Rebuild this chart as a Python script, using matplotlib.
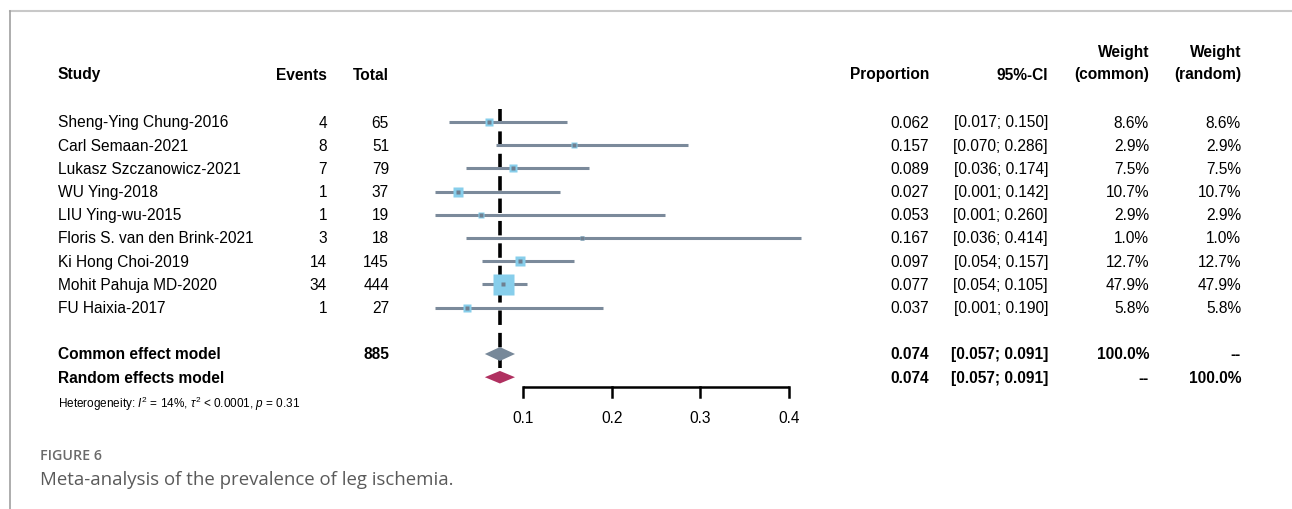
import matplotlib
matplotlib.use("Agg")
import matplotlib.pyplot as plt
import numpy as np

studies = ["Sheng-Ying Chung-2016", "Carl Semaan-2021", "Lukasz Szczanowicz-2021",
           "WU Ying-2018", "LIU Ying-wu-2015", "Floris S. van den Brink-2021",
           "Ki Hong Choi-2019", "Mohit Pahuja MD-2020", "FU Haixia-2017"]
events = [4, 8, 7, 1, 1, 3, 14, 34, 1]
totals = [65, 51, 79, 37, 19, 18, 145, 444, 27]
prop = [0.062, 0.157, 0.089, 0.027, 0.053, 0.167, 0.097, 0.077, 0.037]
ci_low = [0.017, 0.070, 0.036, 0.001, 0.001, 0.036, 0.054, 0.054, 0.001]
ci_high = [0.150, 0.286, 0.174, 0.142, 0.260, 0.414, 0.157, 0.105, 0.190]
w_common = [8.6, 2.9, 7.5, 10.7, 2.9, 1.0, 12.7, 47.9, 5.8]
w_random = [8.6, 2.9, 7.5, 10.7, 2.9, 1.0, 12.7, 47.9, 5.8]
pooled_total = 885
pooled_est = 0.074
pooled_low = 0.057
pooled_high = 0.091
xticks = [0.1, 0.2, 0.3, 0.4]

W, H = 1292, 510
fig = plt.figure(figsize=(W / 100, H / 100), dpi=100)
FONT = "Liberation Sans"
plt.rcParams["mathtext.fontset"] = "custom"
plt.rcParams["mathtext.rm"] = FONT
plt.rcParams["mathtext.it"] = FONT + ":italic"

# overlay axes in pixel coordinates for text/frame
ov = fig.add_axes([0, 0, 1, 1])
ov.set_xlim(0, W)
ov.set_ylim(H, 0)
ov.axis("off")

# frame
ov.plot([10, W], [11.5, 11.5], color="#c8c8c8", lw=1.5)
ov.plot([10, 10], [11.5, H], color="#a0a0a0", lw=1.2)

# forest axes: x in data units, y in row units
x0_px = 434.3
x1_px = 789.0
y_top = 110.0
y_bot = 420.0
pitch = 23.2
row0_y = 123.0
ax = fig.add_axes([x0_px / W, 1 - y_bot / H, (x1_px - x0_px) / W, (y_bot - y_top) / H])
ax.set_xlim(0, 0.4)
ax.set_ylim((y_bot - row0_y) / pitch, (y_top - row0_y) / pitch)
ax.axis("off")

n = len(studies)
rows = np.arange(n)
line_col = "#7b8a9b"
sq_col = "#87ceeb"

# reference dashed line
ax.plot([pooled_est, pooled_est], [-0.55, 10.6], color="black", lw=2.6,
        dashes=(4, 2.2), zorder=1)

for i in range(n):
    ax.plot([ci_low[i], ci_high[i]], [rows[i], rows[i]], color=line_col, lw=2.2,
            solid_capstyle="butt", zorder=2, clip_on=False)
    side_px = 21 * np.sqrt(w_common[i] / max(w_common))
    ax.plot(prop[i], rows[i], marker="s", ms=side_px * 0.72, color=sq_col,
            mec="none", zorder=3, clip_on=False)
    ax.plot(prop[i], rows[i], marker="s", ms=2.2, color="#6f7f90", mec="none",
            zorder=4, clip_on=False)

common_row = 10
random_row = 11
for r, col in [(common_row, "#778899"), (random_row, "#b03060")]:
    h = 0.3 if r == common_row else 0.27
    ax.fill([pooled_low, pooled_est, pooled_high, pooled_est],
            [r, r - h, r, r + h], color=col, zorder=5, lw=0)

# x axis
ax_y = (388 - row0_y) / pitch
tick_len = 10 / pitch
ax.plot([xticks[0], xticks[-1]], [ax_y, ax_y], color="black", lw=1.8,
        clip_on=False, solid_capstyle="butt")
for t in xticks:
    ax.plot([t, t], [ax_y, ax_y + tick_len], color="black", lw=1.8, clip_on=False)
    ax.text(t, (419 - row0_y) / pitch, f"{t:.1f}", ha="center", va="center",
            fontsize=11.2, family=FONT, clip_on=False)

# column texts
fs = 11.2
x_study, x_ev, x_tot = 58, 327, 389
x_prop, x_ci, x_wc, x_wr = 929, 1048, 1149, 1241
hdr_y = 75
ov.text(x_study, hdr_y, "Study", fontsize=fs, fontweight="bold", family=FONT, va="center")
ov.text(x_ev, hdr_y, "Events", fontsize=fs, fontweight="bold", family=FONT, va="center", ha="right")
ov.text(x_tot, hdr_y, "Total", fontsize=fs, fontweight="bold", family=FONT, va="center", ha="right")
ov.text(x_prop, hdr_y, "Proportion", fontsize=fs, fontweight="bold", family=FONT, va="center", ha="right")
ov.text(x_ci, hdr_y, "95%-CI", fontsize=fs, fontweight="bold", family=FONT, va="center", ha="right")
ov.text(x_wc, hdr_y, "(common)", fontsize=fs, fontweight="bold", family=FONT, va="center", ha="right")
ov.text(x_wr, hdr_y, "(random)", fontsize=fs, fontweight="bold", family=FONT, va="center", ha="right")
ov.text(x_wc, 52, "Weight", fontsize=fs, fontweight="bold", family=FONT, va="center", ha="right")
ov.text(x_wr, 52, "Weight", fontsize=fs, fontweight="bold", family=FONT, va="center", ha="right")

for i in range(n):
    y = row0_y + pitch * i
    ov.text(x_study, y, studies[i], fontsize=fs, family=FONT, va="center")
    ov.text(x_ev, y, str(events[i]), fontsize=fs, family=FONT, va="center", ha="right")
    ov.text(x_tot, y, str(totals[i]), fontsize=fs, family=FONT, va="center", ha="right")
    ov.text(x_prop, y, f"{prop[i]:.3f}", fontsize=fs, family=FONT, va="center", ha="right")
    ov.text(x_ci, y, f"[{ci_low[i]:.3f}; {ci_high[i]:.3f}]", fontsize=fs, family=FONT, va="center", ha="right")
    ov.text(x_wc, y, f"{w_common[i]:.1f}%", fontsize=fs, family=FONT, va="center", ha="right")
    ov.text(x_wr, y, f"{w_random[i]:.1f}%", fontsize=fs, family=FONT, va="center", ha="right")

yc = row0_y + pitch * common_row
yr = row0_y + pitch * random_row
ci_txt = f"[{pooled_low:.3f}; {pooled_high:.3f}]"
for y, lab in [(yc, "Common effect model"), (yr, "Random effects model")]:
    ov.text(x_study, y, lab, fontsize=fs, fontweight="bold", family=FONT, va="center")
    ov.text(x_prop, y, f"{pooled_est:.3f}", fontsize=fs, fontweight="bold", family=FONT, va="center", ha="right")
    ov.text(x_ci, y, ci_txt, fontsize=fs, fontweight="bold", family=FONT, va="center", ha="right")
ov.text(x_tot, yc, str(pooled_total), fontsize=fs, fontweight="bold", family=FONT, va="center", ha="right")
ov.text(x_wc, yc, "100.0%", fontsize=fs, fontweight="bold", family=FONT, va="center", ha="right")
ov.text(x_wr, yc, "--", fontsize=fs, fontweight="bold", family=FONT, va="center", ha="right")
ov.text(x_wc, yr, "--", fontsize=fs, fontweight="bold", family=FONT, va="center", ha="right")
ov.text(x_wr, yr, "100.0%", fontsize=fs, fontweight="bold", family=FONT, va="center", ha="right")

ov.text(x_study, 404, r"Heterogeneity: $I^2$ = 14%, $\tau^2$ < 0.0001, $p$ = 0.31",
        fontsize=8.5, family=FONT, va="center")

ov.text(40, 456, "FIGURE 6", fontsize=10.3, family="Open Sans", fontweight="semibold",
        color="#6a6a6a", va="center")
ov.text(40, 480, "Meta-analysis of the prevalence of leg ischemia.", fontsize=13.4,
        family="Open Sans", color="#5a5a5a", va="center")

fig.savefig("out.png", dpi=100)
